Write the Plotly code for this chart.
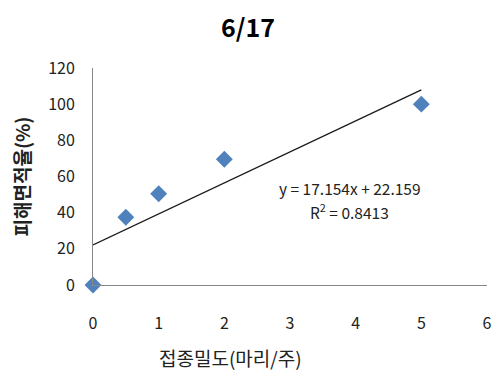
import plotly.graph_objects as go

density = [0, 0.5, 1, 2, 5]
damage = [0, 37.5, 50.5, 69.5, 100]
slope = 17.154
intercept = 22.159
r2 = 0.8413
trend_x = [0, 5]
x_ticks = [0, 1, 2, 3, 4, 5, 6]
y_ticks = [0, 20, 40, 60, 80, 100, 120]

font_main = "Noto Sans CJK KR"

W, H = 495, 369
L, R, T, B = 85, 16, 60, 92
PW, PH = W - L - R, H - T - B

fig = go.Figure()
fig.add_trace(go.Scatter(
    x=trend_x, y=[slope * v + intercept for v in trend_x],
    mode="lines", line=dict(color="#1a1a1a", width=1.3),
    hoverinfo="skip", cliponaxis=False,
))
fig.add_trace(go.Scatter(
    x=density, y=damage, mode="markers",
    marker=dict(symbol="diamond", size=13, color="#4F81BD"),
    cliponaxis=False,
))
fig.add_annotation(
    x=3.91, y=53.5, xref="x", yref="y", showarrow=False,
    text=f"y = {slope}x + {intercept}",
    font=dict(family=font_main, size=15.5, color="#222"),
)
fig.add_annotation(
    x=3.91, y=41, xref="x", yref="y", showarrow=False,
    text=f"R<sup>2</sup> = {r2}",
    font=dict(family=font_main, size=15.5, color="#222"),
)
fig.add_annotation(
    x=(222 - L) / PW, y=-(349 - (T + PH)) / PH, xref="paper", yref="paper",
    showarrow=False, xanchor="center", yanchor="middle",
    text="접종밀도(마리/주)",
    font=dict(family=font_main, size=19, color="#222"),
)
fig.update_layout(
    width=W, height=H,
    margin=dict(l=L, r=R, t=T, b=B, autoexpand=False),
    paper_bgcolor="white", plot_bgcolor="white",
    showlegend=False,
    font=dict(family=font_main, color="#222"),
)
fig.add_annotation(
    x=0.484, y=1 - 18 / H, xref="paper", yref="paper", showarrow=False,
    xanchor="center", yanchor="middle", text="<b>6/17</b>",
    font=dict(family=font_main, size=25, color="black"),
)
fig.layout.annotations[3].update(xref="paper", yref="paper",
                                  x=(239.5 - L) / PW, y=(H - 18 - B) / PH)
fig.update_xaxes(
    range=[0, 6], tickvals=x_ticks, showgrid=False, zeroline=False,
    showline=True, linecolor="#888", linewidth=1, automargin=False,
    ticks="", ticklabelstandoff=24, tickfont=dict(size=16, color="#222"),
)
fig.update_yaxes(
    range=[0, 120], tickvals=y_ticks, showgrid=False, zeroline=False,
    showline=True, linecolor="#888", linewidth=1, automargin=False,
    ticks="", ticklabelstandoff=14, tickfont=dict(size=16, color="#222"),
    title=dict(text="<b>피해면적율(%)</b>", font=dict(size=19, color="#222"), standoff=22),
)
fig.write_html("out.html")
